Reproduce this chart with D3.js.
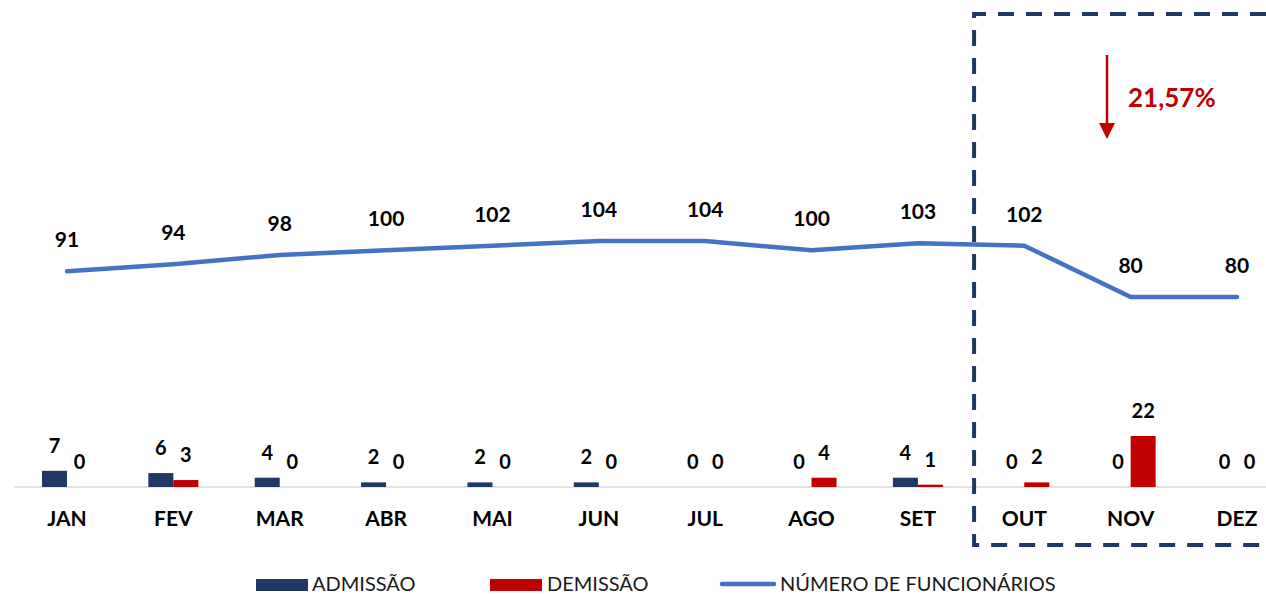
<!DOCTYPE html>
<html>
<head>
<meta charset="utf-8">
<script src="https://cdn.jsdelivr.net/npm/d3@7/dist/d3.min.js"></script>
<style>
  html, body { margin: 0; padding: 0; background: #fff; }
  svg { display: block; font-family: Lato, "Open Sans", sans-serif; }
</style>
</head>
<body>
<svg id="chart" width="1266" height="596"></svg>
<script>
const months = ["JAN","FEV","MAR","ABR","MAI","JUN","JUL","AGO","SET","OUT","NOV","DEZ"];
const admissao = [7, 6, 4, 2, 2, 2, 0, 0, 4, 0, 0, 0];
const demissao = [0, 3, 0, 0, 0, 0, 0, 4, 1, 2, 22, 0];
const funcionarios = [91, 94, 98, 100, 102, 104, 104, 100, 103, 102, 80, 80];
const legendLabels = ["ADMISSÃO", "DEMISSÃO", "NÚMERO DE FUNCIONÁRIOS"];
const highlightFrom = "OUT";
const changeLabel = "21,57%";

const colors = { adm: "#203864", dem: "#C00000", line: "#4472C4", axis: "#D9D9D9" };

const svg = d3.select("#chart");

const x = d3.scalePoint().domain(months).range([67, 1237]);
const yBar = d3.scaleLinear().domain([0, 22]).range([487, 436]);
const yLine = d3.scaleLinear().domain([80, 104]).range([297, 241]);
const barW = 25;

// baseline
svg.append("line")
  .attr("x1", 14).attr("x2", 1266)
  .attr("y1", yBar(0)).attr("y2", yBar(0))
  .attr("stroke", colors.axis).attr("stroke-width", 1.5);

// bars
const g = svg.append("g");
g.selectAll(".adm").data(months).join("rect")
  .attr("x", d => x(d) - barW)
  .attr("y", (d, i) => yBar(admissao[i]))
  .attr("width", barW)
  .attr("height", (d, i) => yBar(0) - yBar(admissao[i]))
  .attr("fill", colors.adm);
g.selectAll(".dem").data(months).join("rect")
  .attr("x", d => x(d))
  .attr("y", (d, i) => yBar(demissao[i]))
  .attr("width", barW)
  .attr("height", (d, i) => yBar(0) - yBar(demissao[i]))
  .attr("fill", colors.dem);

// bar labels
g.selectAll(".admLbl").data(months).join("text")
  .attr("x", d => x(d) - barW / 2)
  .attr("y", (d, i) => yBar(admissao[i]) - 18)
  .attr("text-anchor", "middle")
  .attr("font-size", 20).attr("font-weight", 700).attr("fill", "#000")
  .text((d, i) => admissao[i]);
g.selectAll(".demLbl").data(months).join("text")
  .attr("x", d => x(d) + barW / 2)
  .attr("y", (d, i) => yBar(demissao[i]) - 18)
  .attr("text-anchor", "middle")
  .attr("font-size", 20).attr("font-weight", 700).attr("fill", "#000")
  .text((d, i) => demissao[i]);

// month labels
svg.append("g").selectAll("text").data(months).join("text")
  .attr("x", d => x(d))
  .attr("y", 526)
  .attr("text-anchor", "middle")
  .attr("font-size", 21).attr("font-weight", 700).attr("fill", "#000")
  .text(d => d);

// line
const line = d3.line().x((d, i) => x(months[i])).y(d => yLine(d));
svg.append("path")
  .datum(funcionarios)
  .attr("d", line)
  .attr("fill", "none")
  .attr("stroke", colors.line)
  .attr("stroke-width", 4.5)
  .attr("stroke-linecap", "round")
  .attr("stroke-linejoin", "round");

svg.append("g").selectAll("text").data(funcionarios).join("text")
  .attr("x", (d, i) => x(months[i]))
  .attr("y", d => yLine(d) - 24)
  .attr("text-anchor", "middle")
  .attr("font-size", 21).attr("font-weight", 700).attr("fill", "#000")
  .text(d => d);

// highlight dashed box
const bx = (x(highlightFrom) + x(months[months.indexOf(highlightFrom) - 1])) / 2 + 3;
svg.append("path")
  .attr("d", `M1266,14 L${bx},14 L${bx},545 L1266,545`)
  .attr("fill", "none")
  .attr("stroke", colors.adm)
  .attr("stroke-width", 4)
  .attr("stroke-dasharray", "16,12");

// arrow
const ax = 1107;
svg.append("line")
  .attr("x1", ax).attr("x2", ax)
  .attr("y1", 55).attr("y2", 126)
  .attr("stroke", colors.dem).attr("stroke-width", 2.5);
svg.append("path")
  .attr("d", `M${ax - 8},123 L${ax + 8},123 L${ax},139 Z`)
  .attr("fill", colors.dem);
svg.append("text")
  .attr("x", 1128).attr("y", 107)
  .attr("font-size", 26).attr("font-weight", 700).attr("fill", colors.dem)
  .text(changeLabel);

// legend
const lg = svg.append("g");
lg.append("rect").attr("x", 256).attr("y", 579).attr("width", 52).attr("height", 12).attr("fill", colors.adm);
lg.append("text").attr("x", 312).attr("y", 591).attr("font-size", 20).attr("fill", "#1a1a1a").text(legendLabels[0]);
lg.append("rect").attr("x", 490).attr("y", 579).attr("width", 52).attr("height", 12).attr("fill", colors.dem);
lg.append("text").attr("x", 547).attr("y", 591).attr("font-size", 20).attr("fill", "#1a1a1a").text(legendLabels[1]);
lg.append("line").attr("x1", 722).attr("x2", 774).attr("y1", 584).attr("y2", 584)
  .attr("stroke", colors.line).attr("stroke-width", 4.5).attr("stroke-linecap", "round");
lg.append("text").attr("x", 780).attr("y", 591).attr("font-size", 20).attr("fill", "#1a1a1a").text(legendLabels[2]);
</script>
</body>
</html>
